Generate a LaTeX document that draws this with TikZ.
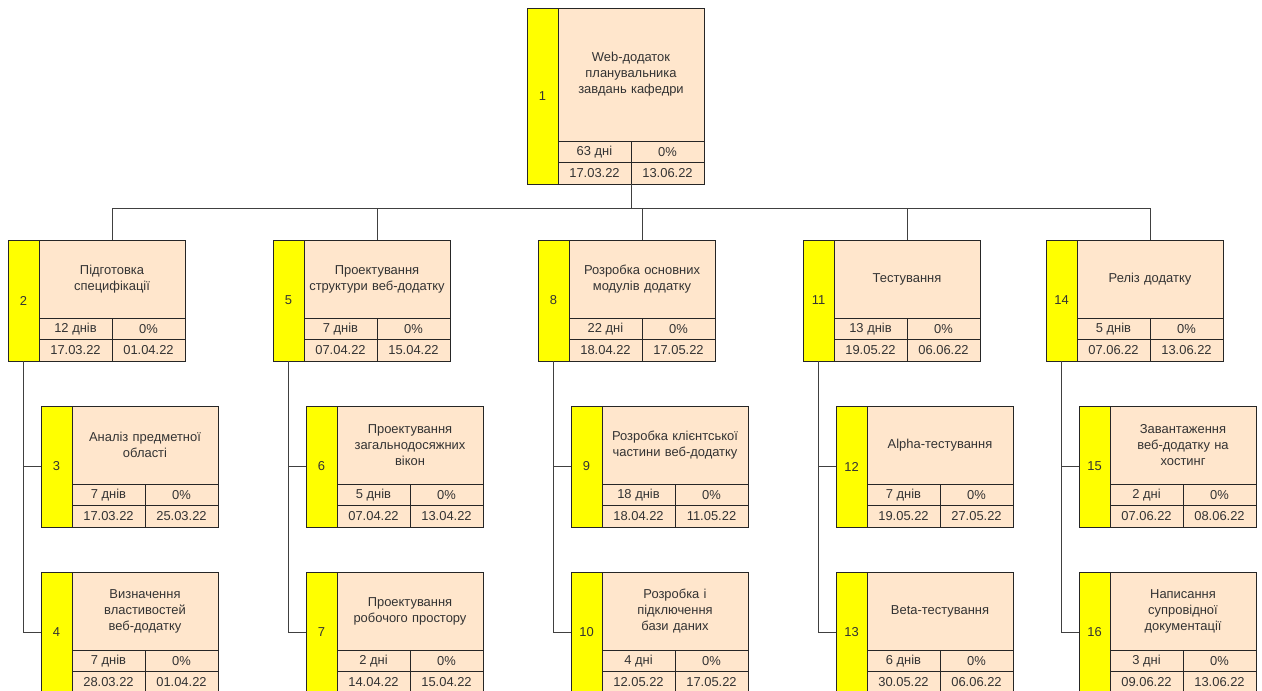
\documentclass[tikz,border=0pt]{standalone}
\usepackage{fontspec}
\setmainfont{Liberation Sans}
\definecolor{peach}{HTML}{FFE6CC}
\definecolor{wyellow}{HTML}{FFFF00}
\definecolor{ink}{HTML}{333333}
\tikzset{
  box/.style={draw=black!85, line width=0.75pt, inner sep=0pt, outer sep=0pt,
    font=\fontsize{9.7}{12}\selectfont, text=ink},
  wnum/.style={box, fill=wyellow, minimum width=23.25pt, anchor=north west},
  wtitle/.style={box, fill=peach, minimum width=109.5pt, anchor=north west,
    align=center, text width=104pt},
  wcell/.style={box, fill=peach, minimum width=54.75pt, minimum height=16.125pt,
    anchor=north west},
  link/.style={draw=black!75, line width=0.75pt},
}
% #1 id, #2 x, #3 y (top-left of the number strip), #4 title height,
% #5 number, #6 title, #7 duration, #8 start, #9 end
\newcommand\wbsbox[9]{%
  \node[wnum, minimum height={(#4+43)*0.75pt}] (#1-n) at (#2,#3) {#5};
  \node[wtitle, minimum height={#4*0.75pt}] (#1) at (#2+31,#3) {#6};
  \node[wcell] (#1-d) at (#1.south west) {#7};
  \node[wcell] (#1-p) at (#1-d.north east) {0\%};
  \node[wcell] (#1-s) at (#1-d.south west) {#8};
  \node[wcell] (#1-e) at (#1-s.north east) {#9};
}
\begin{document}
\begin{tikzpicture}[x=0.75pt,y=-0.75pt]
\useasboundingbox (0,0) rectangle (1262,690);
\clip (0,0) rectangle (1262,690);
\fill[white] (0,0) rectangle (1262,690);

% root
\wbsbox{n1}{527}{8}{133}{1}{Web-додаток\\планувальника\\завдань кафедри}{63 дні}{17.03.22}{13.06.22}

% second level
\wbsbox{n2}{8}{240}{78}{2}{Підготовка\\специфікації}{12 днів}{17.03.22}{01.04.22}
\wbsbox{n5}{273}{240}{78}{5}{Проектування\\структури веб-додатку}{7 днів}{07.04.22}{15.04.22}
\wbsbox{n8}{538}{240}{78}{8}{Розробка основних\\модулів додатку}{22 дні}{18.04.22}{17.05.22}
\wbsbox{n11}{803}{240}{78}{11}{Тестування}{13 днів}{19.05.22}{06.06.22}
\wbsbox{n14}{1046}{240}{78}{14}{Реліз додатку}{5 днів}{07.06.22}{13.06.22}

% third level
\wbsbox{n3}{41}{406}{78}{3}{Аналіз предметної\\області}{7 днів}{17.03.22}{25.03.22}
\wbsbox{n4}{41}{572}{78}{4}{Визначення\\властивостей\\веб-додатку}{7 днів}{28.03.22}{01.04.22}
\wbsbox{n6}{306}{406}{78}{6}{Проектування\\загальнодосяжних\\вікон}{5 днів}{07.04.22}{13.04.22}
\wbsbox{n7}{306}{572}{78}{7}{Проектування\\робочого простору}{2 дні}{14.04.22}{15.04.22}
\wbsbox{n9}{571}{406}{78}{9}{Розробка клієнтської\\частини веб-додатку}{18 днів}{18.04.22}{11.05.22}
\wbsbox{n10}{571}{572}{78}{10}{Розробка і\\підключення\\бази даних}{4 дні}{12.05.22}{17.05.22}
\wbsbox{n12}{836}{406}{78}{12}{Alpha-тестування}{7 днів}{19.05.22}{27.05.22}
\wbsbox{n13}{836}{572}{78}{13}{Beta-тестування}{6 днів}{30.05.22}{06.06.22}
\wbsbox{n15}{1079}{406}{78}{15}{Завантаження\\веб-додатку на\\хостинг}{2 дні}{07.06.22}{08.06.22}
\wbsbox{n16}{1079}{572}{78}{16}{Написання\\супровідної\\документації}{3 дні}{09.06.22}{13.06.22}

% connectors from the root to the phases
\coordinate (bus) at (0,208);
\foreach \k in {n2,n5,n8,n11,n14}
  \draw[link] (n1-s.south east) -- (n1-s.south east |- bus) -| (\k.north);

% connectors from each phase to its tasks
\foreach \p/\a/\b in {n2/n3/n4, n5/n6/n7, n8/n9/n10, n11/n12/n13, n14/n15/n16}{
  \draw[link] (\p-n.south) |- (\a-n.west);
  \draw[link] (\p-n.south) |- (\b-n.west);
}
\end{tikzpicture}
\end{document}
